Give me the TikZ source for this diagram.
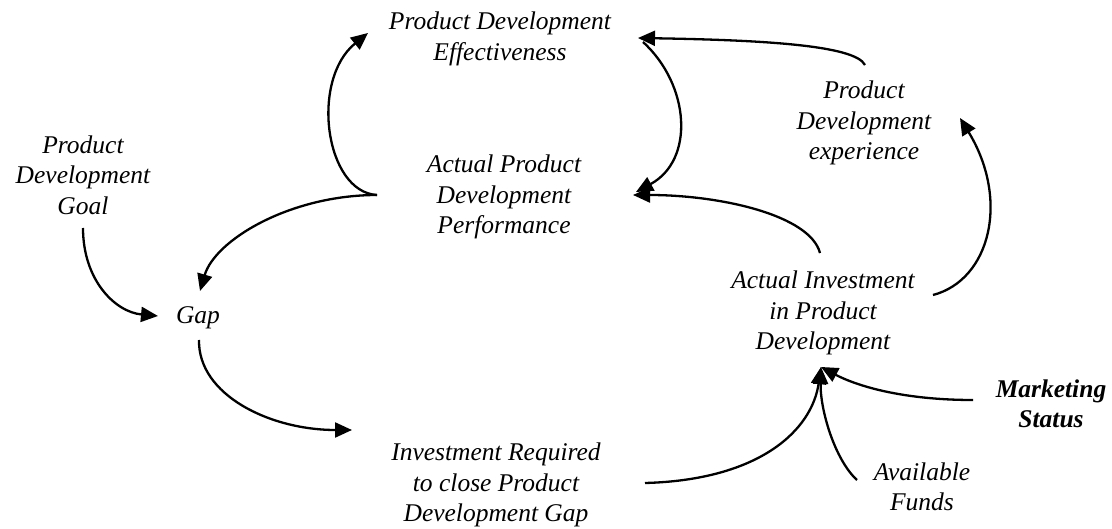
\documentclass[tikz,border=0pt]{standalone}
\usepackage{fontspec}
\setmainfont{Liberation Serif}
\usetikzlibrary{arrows.meta,calc}
\tikzset{
  lbl/.style={align=center,inner sep=0pt,font=\fontsize{25.5}{30.5}\selectfont\itshape},
  lblb/.style={lbl,font=\fontsize{25.5}{30.5}\selectfont\bfseries\itshape},
  link/.style={line width=2.3pt,-{Triangle[length=17pt,width=15pt]}},
}
\begin{document}
\begin{tikzpicture}[x=1pt,y=-1pt]
\useasboundingbox (0,0) rectangle (1112,529);
\node[lbl] (pde) at (500,39) {Product Development\\Effectiveness};
\node[lbl] (apdp) at (504,197) {Actual Product\\Development\\Performance};
\node[lbl] (pdg) at (83,175) {Product\\Development\\Goal};
\node[lbl] (gap) at (198,318) {Gap};
\node[lbl] (exp) at (864,123) {Product\\Development\\experience};
\node[lbl] (aipd) at (823,313) {Actual Investment\\in Product\\Development};
\node[lblb] (ms) at (1051,404) {Marketing\\Status};
\node[lbl] (af) at (922,487) {Available\\Funds};
\node[lbl] (irp) at (496,485) {Investment Required\\to close Product\\Development Gap};

\draw[link] ($(apdp)+(-127,-2)$) .. controls (325,192) and (310,80) .. ($(pde)+(-132,-6)$);
\draw[link] ($(apdp)+(-127,-2)$) .. controls (290,195) and (215,240) .. ($(gap)+(2,-27)$);
\draw[link] ($(pdg)+(0,53)$) .. controls (83,280) and (115,312) .. ($(gap)+(-40,-2)$);
\draw[link] ($(gap)+(1,22)$) .. controls (198,395) and (270,430) .. ($(irp)+(-144,-55)$);
\draw[link] ($(irp)+(149,-2)$) .. controls (760,480) and (812,430) .. ($(aipd)+(-2,54)$);
\draw[link] ($(af)+(-65,-7)$) .. controls (835,460) and (820,410) .. ($(aipd)+(-2,54)$);
\draw[link] ($(ms)+(-78,-4)$) .. controls (900,400) and (855,385) .. ($(aipd)+(-2,54)$);
\draw[link] ($(aipd)+(110,-18)$) .. controls (990,280) and (1010,200) .. ($(exp)+(96,-5)$);
\draw[link] ($(aipd)+(-3,-60)$) .. controls (810,215) and (720,195) .. ($(apdp)+(129,-2)$);
\draw[link] ($(exp)+(1,-58)$) .. controls (855,45) and (760,40) .. ($(pde)+(138,-1)$);
\draw[link] ($(pde)+(143,3)$) .. controls (690,85) and (695,160) .. ($(apdp)+(132,-5)$);
\end{tikzpicture}
\end{document}
